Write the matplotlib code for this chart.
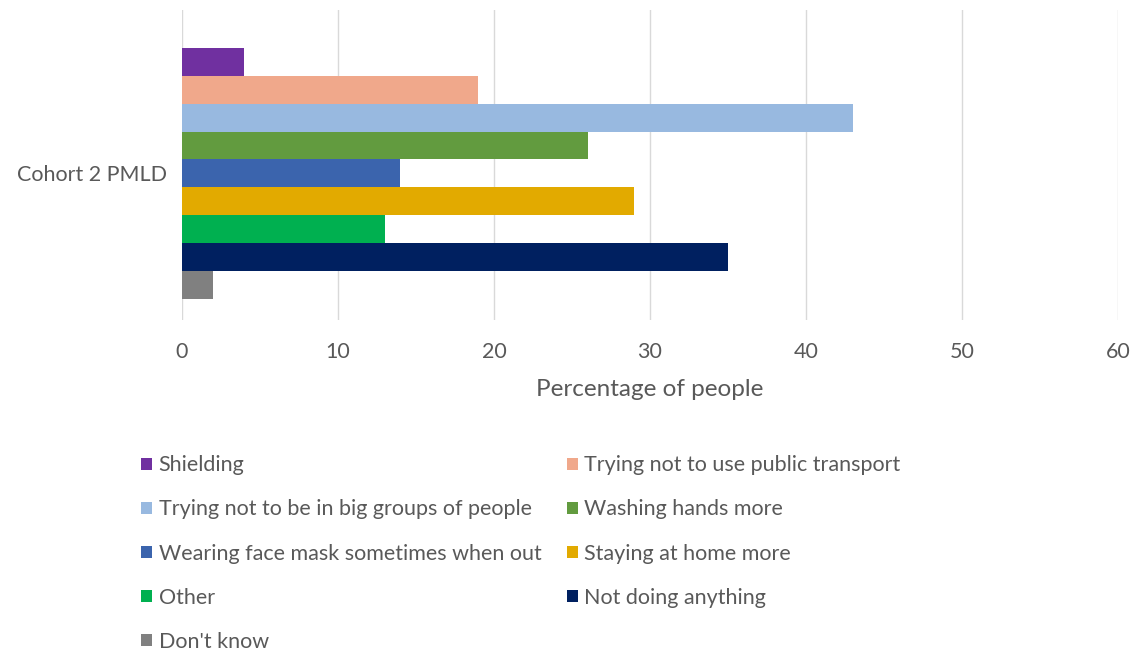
import numpy as np
import matplotlib
matplotlib.use('Agg')
import matplotlib.pyplot as plt

plt.rcParams['font.family'] = ['Lato', 'DejaVu Sans']

category = 'Cohort 2 PMLD'
labels = ['Shielding', 'Trying not to use public transport',
          'Trying not to be in big groups of people', 'Washing hands more',
          'Wearing face mask sometimes when out', 'Staying at home more',
          'Other', 'Not doing anything', "Don't know"]
values = [4, 19, 43, 26, 14, 29, 13, 35, 2]
colors = ['#7030A0', '#F0A88B', '#98B9E0', '#629B3F', '#3B64AD',
          '#E2AA00', '#00B050', '#002060', '#808080']

text_col = '#595959'

fig = plt.figure(figsize=(11.39, 6.53), dpi=100)
ax = fig.add_axes([182/1139, 1-320/653, (1118-182)/1139, 310/653])

n = len(values)
h = 0.09
pos = (np.arange(n) - (n-1)/2) * h
bars = []
for p, v, c, l in zip(pos, values, colors, labels):
    b = ax.barh(p, v, height=h, color=c, label=l, zorder=3)
    bars.append(b)

ax.set_ylim(0.5 - 0.027, -0.5 - 0.027)
ax.set_xlim(0, 60)
ax.set_xticks(range(0, 61, 10))
ax.set_yticks([0])
ax.set_yticklabels([category])
ax.grid(axis='x', color='#D9D9D9', linewidth=1, zorder=0)
for s in ax.spines.values():
    s.set_visible(False)
ax.tick_params(axis='both', length=0, colors=text_col, labelsize=15.5)
ax.tick_params(axis='x', pad=16)
ax.tick_params(axis='y', pad=11)
ax.set_xlabel('Percentage of people', fontsize=17.5, color=text_col, labelpad=12)

# legend fills column-major, so reorder to match the row-wise layout
order = [0, 2, 4, 6, 8, 1, 3, 5, 7]
handles = [bars[i] for i in order]
fig.legend(handles, [labels[i] for i in order], ncol=2,
           loc='upper left', bbox_to_anchor=(122/1139, 1-436/653),
           frameon=False, fontsize=15.5, labelcolor=text_col,
           handlelength=0.5, handleheight=0.5, handletextpad=0.3,
           columnspacing=1.2, labelspacing=1.12)

fig.savefig('out.png', dpi=100)
